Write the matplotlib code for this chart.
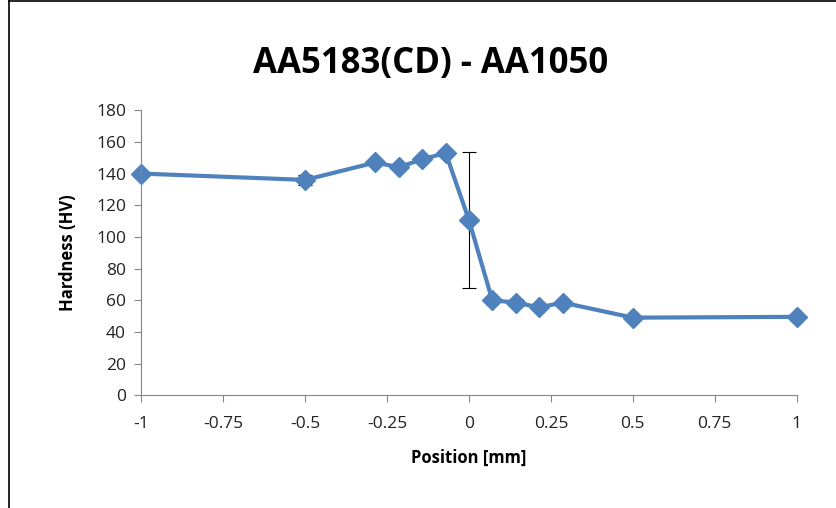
import matplotlib.pyplot as plt
from matplotlib.lines import Line2D

position = [-1, -0.5, -0.286, -0.214, -0.143, -0.071, 0, 0.071, 0.143, 0.214, 0.286, 0.5, 1]
hardness = [140, 136, 147, 144, 149, 153, 110.5, 60, 58.5, 55.5, 58.5, 49, 49.5]
error = [0, 3, 0, 0, 0, 0, 43, 2, 2, 0, 0, 0, 0]
x_ticks = [-1, -0.75, -0.5, -0.25, 0, 0.25, 0.5, 0.75, 1]
x_labels = ["-1", "-0.75", "-0.5", "-0.25", "0", "0.25", "0.5", "0.75", "1"]
y_ticks = list(range(0, 181, 20))

plt.rcParams["font.family"] = ["Open Sans", "DejaVu Sans"]
fig = plt.figure(figsize=(8.36, 5.08), dpi=100)
ax = fig.add_axes([0.169, 0.222, 0.784, 0.561])

ax.errorbar(position, hardness, yerr=error, fmt="none", ecolor="black",
            elinewidth=0.8, capsize=5, capthick=0.8, zorder=1)
ax.plot(position, hardness, color="#4F81BD", linewidth=3, marker="D",
        markersize=10, zorder=2, clip_on=False)

ax.set_xlim(-1, 1)
ax.set_ylim(0, 180)
ax.set_xticks(x_ticks)
ax.set_xticklabels(x_labels)
ax.set_yticks(y_ticks)
ax.tick_params(labelsize=12.5, color="#868686", labelcolor="#222222",
               length=5, direction="out")
ax.tick_params(axis="x", pad=10)
ax.tick_params(axis="y", pad=6)
for side in ["top", "right"]:
    ax.spines[side].set_visible(False)
for side in ["left", "bottom"]:
    ax.spines[side].set_color("#868686")

ax.set_xlabel("Position [mm]", fontsize=12, fontweight="bold", labelpad=12)
ax.set_ylabel("Hardness (HV)", fontsize=12, fontweight="bold", labelpad=14)
fig.suptitle("AA5183(CD) - AA1050", fontsize=25, fontweight="bold", y=0.91, x=0.515)

# outer frame: only left and top edges are visible
fig.add_artist(Line2D([0.0105, 0.0105], [0, 0.998], transform=fig.transFigure,
                      color="black", linewidth=1.2))
fig.add_artist(Line2D([0.0105, 1], [0.998, 0.998], transform=fig.transFigure,
                      color="black", linewidth=1.2))

fig.savefig("out.png", dpi=100)
